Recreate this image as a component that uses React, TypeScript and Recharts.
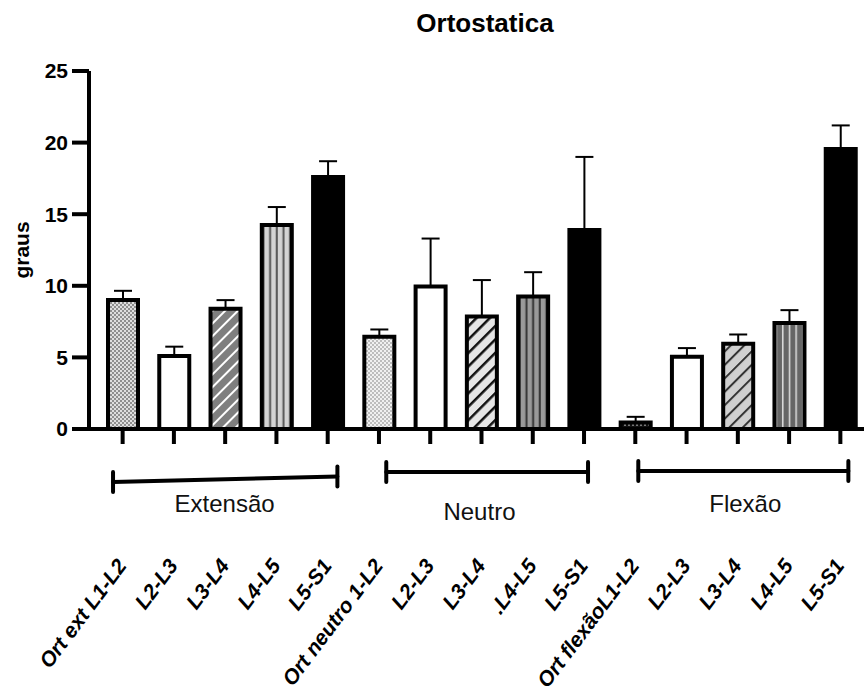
import { BarChart, Bar, XAxis, YAxis, Cell, ErrorBar } from "recharts";

const LABELS = [
  "Ort ext L1-L2", "L2-L3", "L3-L4", "L4-L5", "L5-S1",
  "Ort neutro 1-L2", "L2-L3", "L3-L4", ".L4-L5", "L5-S1",
  "Ort flexãoL1-L2", "L2-L3", "L3-L4", "L4-L5", "L5-S1",
];
const GROUPS = ["Extensão", "Neutro", "Flexão"];
const MEANS = [9.0, 5.1, 8.4, 14.25, 17.6, 6.45, 9.95, 7.85, 9.25, 13.9, 0.45, 5.05, 5.95, 7.4, 19.55];
const ERRORS = [0.65, 0.65, 0.6, 1.25, 1.1, 0.5, 3.35, 2.55, 1.7, 5.1, 0.4, 0.6, 0.65, 0.9, 1.65];
const Y_TICKS = [0, 5, 10, 15, 20, 25];

const FILLS = [
  "url(#checkMid)", "#ffffff", "url(#diagGrayWhite)", "url(#vertLight)", "#000000",
  "url(#checkLight)", "#ffffff", "url(#diagLightBlack)", "url(#vertMid)", "#000000",
  "url(#checkDark)", "#ffffff", "url(#diagGrayDark)", "url(#vertDark)", "#000000",
];

const data = LABELS.map((label, i) => ({
  key: String(i),
  label,
  mean: MEANS[i],
  err: [0, ERRORS[i]],
}));

const FONT = '"Liberation Sans", Arial, Helvetica, sans-serif';
const CHART_W = 866;
const CHART_H = 691;
const TOP = 71;
const Y_W = 89;
const X_H = 262;
const PAD_L = 8;
const AXIS_Y = CHART_H - X_H;
const STEP = (CHART_W - Y_W - PAD_L) / LABELS.length;

// hand drawn brackets under each group (offsets from first / last tick of the group)
const BRACKETS = [
  { from: -9.6, to: 9.7, y1: 482, y2: 476.5, labelDx: 102, labelY: 512 },
  { from: 7.3, to: 4, y1: 472, y2: 472, labelDx: 100.5, labelY: 520 },
  { from: 3, to: 8, y1: 471, y2: 471, labelDx: 110, labelY: 512 },
];

const CategoryTick = (props: any) => {
  const { x, payload } = props;
  const i = Number(payload.value);
  const g = Math.floor(i / 5);
  const b = BRACKETS[g];
  const first = i % 5 === 0;
  const x1 = x + b.from;
  const x2 = x + 4 * STEP + b.to;
  return (
    <g>
      {first && (
        <g stroke="#000" strokeWidth={4} strokeLinecap="round">
          <line x1={x1} y1={b.y1} x2={x2} y2={b.y2} />
          <line x1={x1} y1={b.y1 - 10} x2={x1} y2={b.y1 + 10} />
          <line x1={x2} y1={b.y2 - 10} x2={x2} y2={b.y2 + 10} />
        </g>
      )}
      {first && (
        <text x={x + b.labelDx} y={b.labelY} textAnchor="middle" fontSize={24} fontFamily={FONT} fill="#111">
          {GROUPS[g]}
        </text>
      )}
      <text
        transform={`translate(${x + 5},${AXIS_Y + 137}) rotate(-53)`}
        textAnchor="end"
        fontSize={21}
        fontWeight="bold"
        fontStyle="italic"
        fontFamily={FONT}
        fill="#000"
      >
        {LABELS[i]}
      </text>
    </g>
  );
};

const GrausLabel = (props: any) => {
  const vb = props.viewBox || { y: TOP, height: AXIS_Y - TOP };
  const cy = vb.y + vb.height / 2;
  return (
    <text
      transform={`translate(29,${cy}) rotate(-90)`}
      textAnchor="middle"
      fontSize={21}
      fontWeight="bold"
      fontFamily={FONT}
      fill="#000"
    >
      graus
    </text>
  );
};

const VertPattern = ({ id, bg, line, w }: { id: string; bg: string; line: string; w: number }) => (
  <pattern id={id} x={0} y={0} width={0.2222} height={1} patternUnits="objectBoundingBox">
    <rect width={7} height={1000} fill={bg} />
    <line x1={1.67} y1={0} x2={1.67} y2={1000} stroke={line} strokeWidth={w} />
  </pattern>
);

const Patterns = () => (
  <svg width={0} height={0} style={{ position: "absolute" }}>
    <defs>
      <pattern id="checkMid" width={4} height={4} patternUnits="userSpaceOnUse">
        <rect width={4} height={4} fill="#dedede" />
        <rect width={2} height={2} fill="#8f8f8f" />
        <rect x={2} y={2} width={2} height={2} fill="#8f8f8f" />
      </pattern>
      <pattern id="checkLight" width={4} height={4} patternUnits="userSpaceOnUse">
        <rect width={4} height={4} fill="#f0f0f0" />
        <rect width={2} height={2} fill="#bdbdbd" />
        <rect x={2} y={2} width={2} height={2} fill="#bdbdbd" />
      </pattern>
      <pattern id="checkDark" width={4} height={4} patternUnits="userSpaceOnUse">
        <rect width={4} height={4} fill="#111" />
        <rect width={2} height={2} fill="#777" />
      </pattern>
      <pattern id="diagGrayWhite" width={9} height={9} patternUnits="userSpaceOnUse" patternTransform="rotate(45)">
        <rect width={9} height={9} fill="#7f7f7f" />
        <line x1={0} y1={0} x2={0} y2={9} stroke="#fff" strokeWidth={4} />
      </pattern>
      <pattern id="diagLightBlack" width={9.5} height={9.5} patternUnits="userSpaceOnUse" patternTransform="rotate(45)">
        <rect width={9.5} height={9.5} fill="#e6e6e6" />
        <line x1={0} y1={0} x2={0} y2={9.5} stroke="#111" strokeWidth={5} />
      </pattern>
      <pattern id="diagGrayDark" width={9.5} height={9.5} patternUnits="userSpaceOnUse" patternTransform="rotate(45)">
        <rect width={9.5} height={9.5} fill="#d0d0d0" />
        <line x1={0} y1={0} x2={0} y2={9.5} stroke="#333" strokeWidth={4} />
      </pattern>
      <VertPattern id="vertLight" bg="#d4d4d4" line="#555" w={2} />
      <VertPattern id="vertMid" bg="#9a9a9a" line="#333" w={2} />
      <VertPattern id="vertDark" bg="#666" line="#e0e0e0" w={1.5} />
    </defs>
  </svg>
);

export default function App() {
  return (
    <div
      style={{
        position: "absolute",
        left: 0,
        top: 0,
        width: 864,
        height: 691,
        overflow: "hidden",
        background: "#fff",
      }}
    >
      <Patterns />
      <BarChart
        width={CHART_W}
        height={CHART_H}
        data={data}
        margin={{ top: TOP, right: 0, left: 0, bottom: 0 }}
        barSize={30}
      >
        <XAxis
          dataKey="key"
          interval={0}
          height={X_H}
          padding={{ left: PAD_L, right: 0 }}
          axisLine={{ stroke: "#000", strokeWidth: 4 }}
          tickLine={{ stroke: "#000", strokeWidth: 4 }}
          tickSize={15}
          tick={CategoryTick}
        />
        <YAxis
          width={Y_W}
          domain={[0, 25]}
          ticks={Y_TICKS}
          interval={0}
          axisLine={{ stroke: "#000", strokeWidth: 4 }}
          tickLine={{ stroke: "#000", strokeWidth: 4 }}
          tickSize={17}
          tickMargin={4}
          tick={{ fontSize: 21, fontWeight: "bold", fill: "#000", fontFamily: FONT }}
          label={GrausLabel}
        />
        <Bar dataKey="mean" stroke="#000" strokeWidth={4} isAnimationActive={false}>
          {data.map((_, i) => (
            <Cell key={`cell-${i}`} fill={FILLS[i]} />
          ))}
          <ErrorBar dataKey="err" direction="y" width={9} stroke="#000" strokeWidth={2} isAnimationActive={false} />
        </Bar>
      </BarChart>
      <svg width={864} height={691} style={{ position: "absolute", left: 0, top: 0, pointerEvents: "none" }}>
        <text x={485} y={32} textAnchor="middle" fontSize={26} fontWeight="bold" fontFamily={FONT} fill="#000">
          Ortostatica
        </text>
      </svg>
    </div>
  );
}
